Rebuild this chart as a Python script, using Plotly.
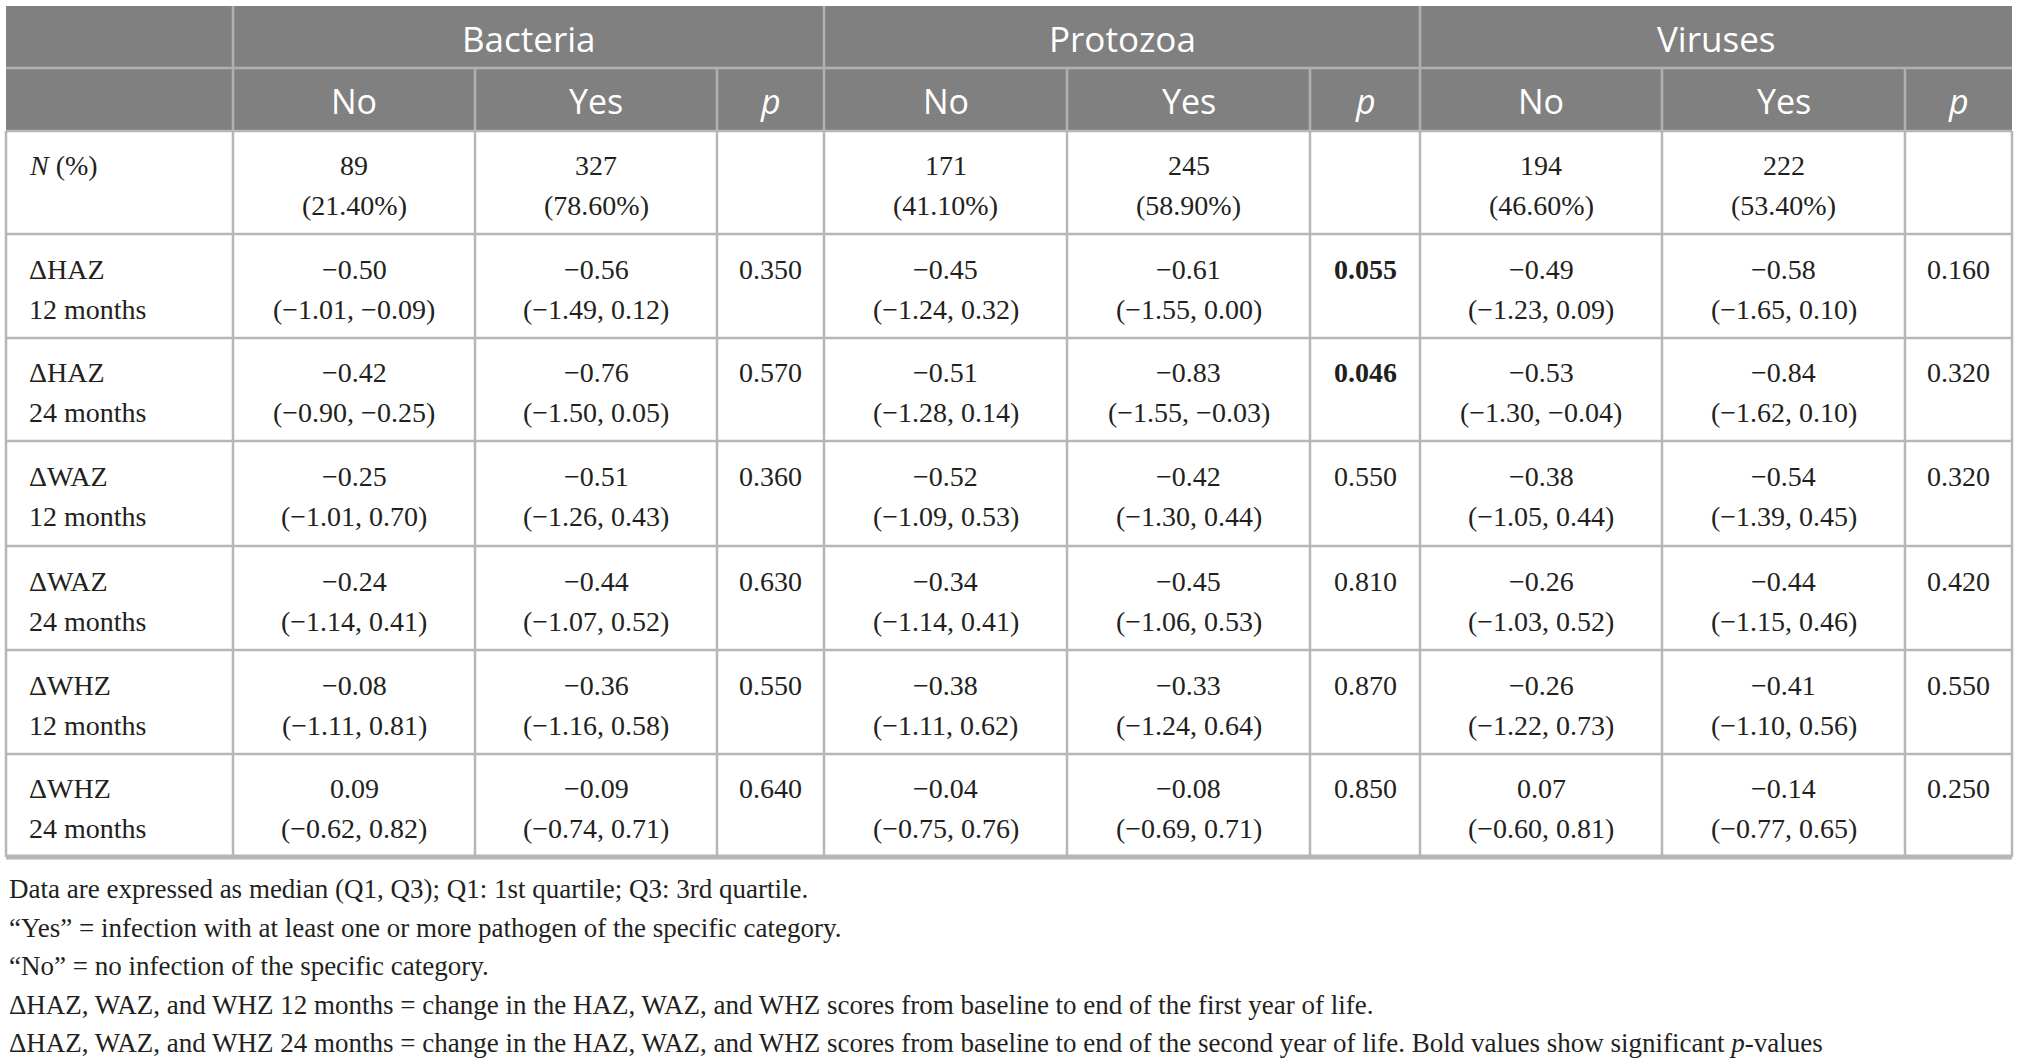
import plotly.graph_objects as go

# ---- table content ----
groups = ["Bacteria", "Protozoa", "Viruses"]
sub_headers = ["No", "Yes", "<i>p</i>"]

row_label_top = ["<i>N</i> (%)", "ΔHAZ", "ΔHAZ", "ΔWAZ", "ΔWAZ", "ΔWHZ", "ΔWHZ"]
row_label_bottom = ["", "12 months", "24 months", "12 months", "24 months", "12 months", "24 months"]

bacteria_no_median = ["89", "−0.50", "−0.42", "−0.25", "−0.24", "−0.08", "0.09"]
bacteria_no_iqr = ["(21.40%)", "(−1.01, −0.09)", "(−0.90, −0.25)", "(−1.01, 0.70)",
                   "(−1.14, 0.41)", "(−1.11, 0.81)", "(−0.62, 0.82)"]
bacteria_yes_median = ["327", "−0.56", "−0.76", "−0.51", "−0.44", "−0.36", "−0.09"]
bacteria_yes_iqr = ["(78.60%)", "(−1.49, 0.12)", "(−1.50, 0.05)", "(−1.26, 0.43)",
                    "(−1.07, 0.52)", "(−1.16, 0.58)", "(−0.74, 0.71)"]
bacteria_p = ["", "0.350", "0.570", "0.360", "0.630", "0.550", "0.640"]

protozoa_no_median = ["171", "−0.45", "−0.51", "−0.52", "−0.34", "−0.38", "−0.04"]
protozoa_no_iqr = ["(41.10%)", "(−1.24, 0.32)", "(−1.28, 0.14)", "(−1.09, 0.53)",
                   "(−1.14, 0.41)", "(−1.11, 0.62)", "(−0.75, 0.76)"]
protozoa_yes_median = ["245", "−0.61", "−0.83", "−0.42", "−0.45", "−0.33", "−0.08"]
protozoa_yes_iqr = ["(58.90%)", "(−1.55, 0.00)", "(−1.55, −0.03)", "(−1.30, 0.44)",
                    "(−1.06, 0.53)", "(−1.24, 0.64)", "(−0.69, 0.71)"]
protozoa_p = ["", "0.055", "0.046", "0.550", "0.810", "0.870", "0.850"]

viruses_no_median = ["194", "−0.49", "−0.53", "−0.38", "−0.26", "−0.26", "0.07"]
viruses_no_iqr = ["(46.60%)", "(−1.23, 0.09)", "(−1.30, −0.04)", "(−1.05, 0.44)",
                  "(−1.03, 0.52)", "(−1.22, 0.73)", "(−0.60, 0.81)"]
viruses_yes_median = ["222", "−0.58", "−0.84", "−0.54", "−0.44", "−0.41", "−0.14"]
viruses_yes_iqr = ["(53.40%)", "(−1.65, 0.10)", "(−1.62, 0.10)", "(−1.39, 0.45)",
                   "(−1.15, 0.46)", "(−1.10, 0.56)", "(−0.77, 0.65)"]
viruses_p = ["", "0.160", "0.320", "0.320", "0.420", "0.550", "0.250"]

footnotes = [
    "Data are expressed as median (Q1, Q3); Q1: 1st quartile; Q3: 3rd quartile.",
    "“Yes” = infection with at least one or more pathogen of the specific category.",
    "“No” = no infection of the specific category.",
    "ΔHAZ, WAZ, and WHZ 12 months = change in the HAZ, WAZ, and WHZ scores from baseline to end of the first year of life.",
    "ΔHAZ, WAZ, and WHZ 24 months = change in the HAZ, WAZ, and WHZ scores from baseline to end of the second year of life. "
    "Bold values show significant <i>p</i>-values",
]

# ---- layout (pixels of the 2018x1062 page) ----
W, H = 2018, 1062
col_edges = [6, 233, 475, 717, 824, 1067, 1310, 1420, 1662, 1905, 2012]
row_edges = [6, 68, 131, 234, 338, 441, 546, 650, 754, 857]
foot_x, foot_y0, foot_step = 7, 889, 38.5

HEAD_BG = "#808080"
HEAD_LINE = "#b0b0b0"
GRID = "#b6b6b6"
TEXT = "#231f20"
SERIF = "Liberation Serif"
SANS = "Open Sans"

columns = [
    (bacteria_no_median, bacteria_no_iqr), (bacteria_yes_median, bacteria_yes_iqr), bacteria_p,
    (protozoa_no_median, protozoa_no_iqr), (protozoa_yes_median, protozoa_yes_iqr), protozoa_p,
    (viruses_no_median, viruses_no_iqr), (viruses_yes_median, viruses_yes_iqr), viruses_p,
]

fig = go.Figure()
shapes = []
ann = []


def text(x, y, s, size, family, color=TEXT, xanchor="center"):
    ann.append(dict(x=x, y=y, xref="x", yref="y", text=s, showarrow=False,
                    xanchor=xanchor, yanchor="middle",
                    font=dict(size=size, family=family, color=color)))


def line(x0, y0, x1, y1, color, width=2):
    shapes.append(dict(type="line", xref="x", yref="y", x0=x0, y0=y0, x1=x1, y1=y1,
                       line=dict(color=color, width=width)))


# header background
shapes.append(dict(type="rect", xref="x", yref="y", x0=col_edges[0], x1=col_edges[-1],
                   y0=row_edges[0], y1=row_edges[2], fillcolor=HEAD_BG, line=dict(width=0),
                   layer="below"))

# header lines
line(col_edges[0], row_edges[1], col_edges[-1], row_edges[1], HEAD_LINE, 2.5)
for i in (1, 4, 7):
    line(col_edges[i], row_edges[0], col_edges[i], row_edges[1], HEAD_LINE, 2.5)
for x in col_edges[1:-1]:
    line(x, row_edges[1], x, row_edges[2], HEAD_LINE, 2.5)

# body grid
for y in row_edges[2:-1]:
    line(col_edges[0], y, col_edges[-1], y, GRID, 2.5)
line(col_edges[0], row_edges[-1], col_edges[-1], row_edges[-1], GRID, 5)
for x in col_edges:
    line(x, row_edges[2], x, row_edges[-1], GRID, 2.5)

# header text
for g, name in enumerate(groups):
    cx = (col_edges[1 + 3 * g] + col_edges[4 + 3 * g]) / 2
    text(cx, (row_edges[0] + row_edges[1]) / 2 + 1, name, 35, SANS, "white")
for c in range(9):
    cx = (col_edges[1 + c] + col_edges[2 + c]) / 2
    text(cx, (row_edges[1] + row_edges[2]) / 2 + 1, sub_headers[c % 3], 34, SANS, "white")

# body text
for r in range(len(row_label_top)):
    cy = (row_edges[2 + r] + row_edges[3 + r]) / 2
    y1, y2 = cy - 17, cy + 23
    text(col_edges[0] + 21, y1, row_label_top[r], 28, SERIF, xanchor="left")
    text(col_edges[0] + 21, y2, row_label_bottom[r], 28, SERIF, xanchor="left")
    for c, col in enumerate(columns):
        cx = (col_edges[1 + c] + col_edges[2 + c]) / 2
        if isinstance(col, tuple):
            text(cx, y1, col[0][r], 28, SERIF)
            text(cx, y2, col[1][r], 28, SERIF)
        elif col[r]:
            val = col[r]
            if float(val) < 0.06:
                val = "<b>" + val + "</b>"
            text(cx, y1, val, 28, SERIF)

# footnotes
for i, note in enumerate(footnotes):
    text(foot_x, foot_y0 + i * foot_step, note, 27, SERIF, xanchor="left")

fig.update_layout(
    width=W, height=H,
    margin=dict(l=0, r=0, t=0, b=0),
    paper_bgcolor="white", plot_bgcolor="white",
    xaxis=dict(range=[0, W], visible=False, fixedrange=True),
    yaxis=dict(range=[H, 0], visible=False, fixedrange=True),
    shapes=shapes, annotations=ann,
    showlegend=False,
)

# drop the page's default body margin so the figure fills the window exactly
fig.write_html("out.html", config={"displayModeBar": False},
               post_script="document.body.style.margin='0';document.body.style.overflow='hidden';")
